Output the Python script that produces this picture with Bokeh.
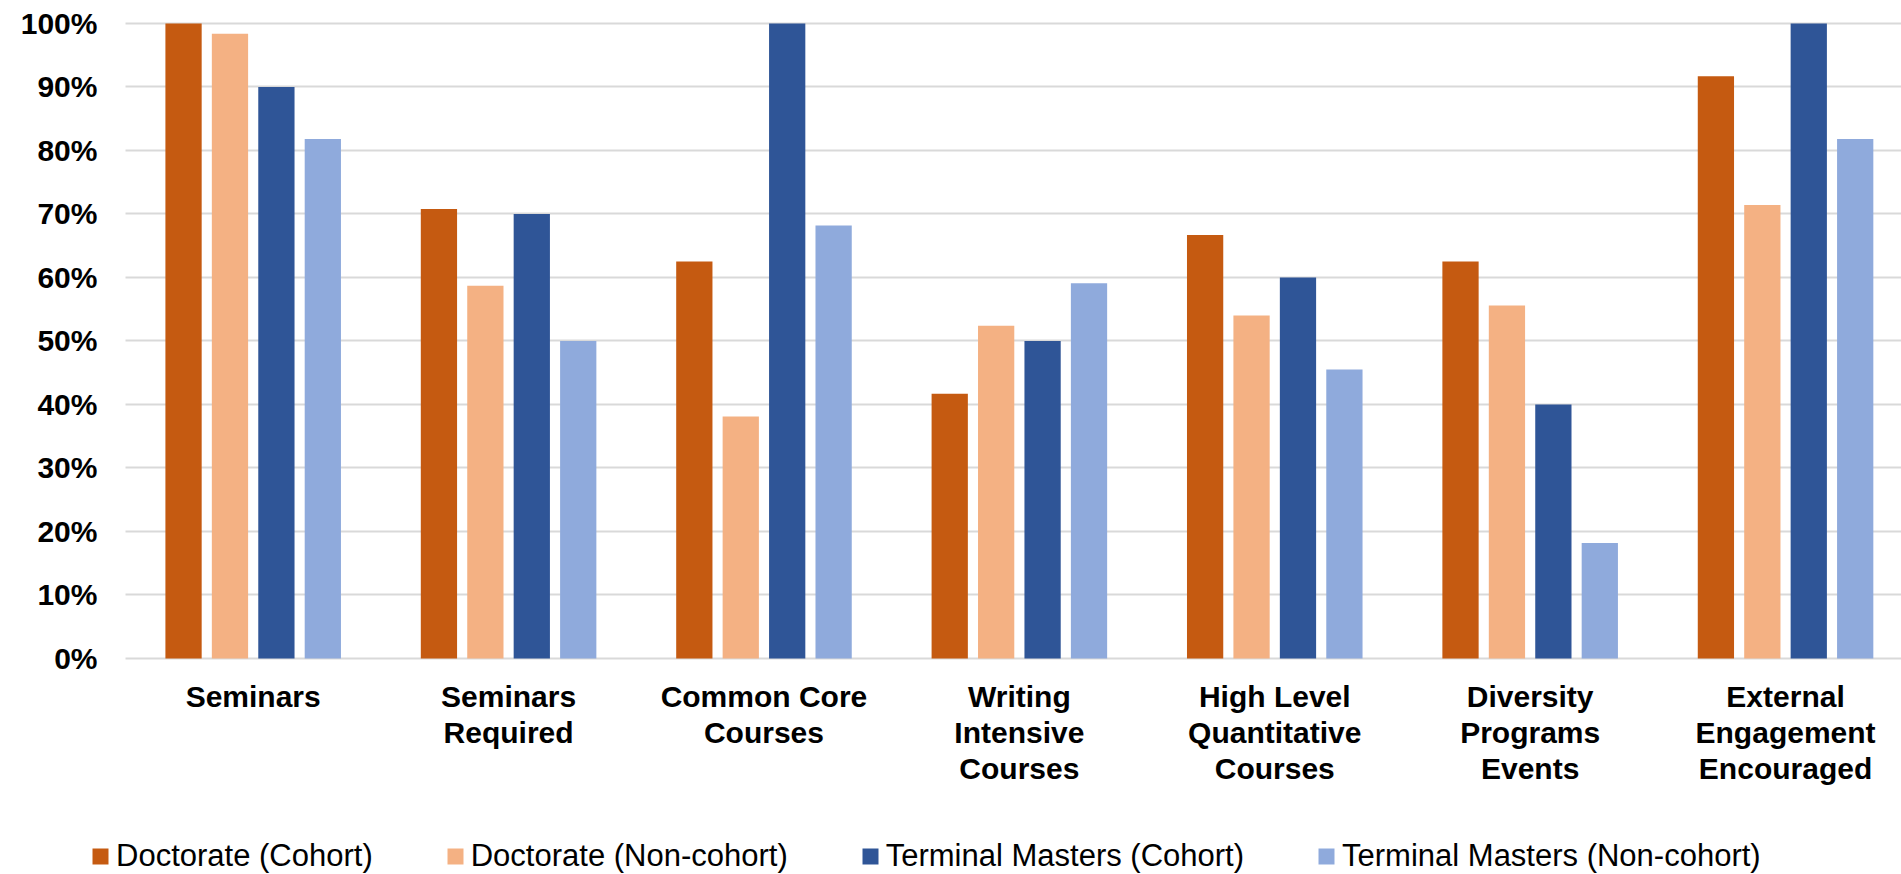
from bokeh.plotting import figure
from bokeh.models import Range1d, NumeralTickFormatter, FixedTicker, Legend, LegendItem, ColumnDataSource
from bokeh.transform import dodge
from bokeh.embed import file_html
from bokeh.resources import INLINE

categories = ["Seminars", "Seminars\nRequired", "Common Core\nCourses", "Writing\nIntensive\nCourses",
              "High Level\nQuantitative\nCourses", "Diversity\nPrograms\nEvents", "External\nEngagement\nEncouraged"]
doc_cohort = [100, 70.8, 62.5, 41.7, 66.7, 62.5, 91.7]
doc_noncohort = [98.4, 58.7, 38.1, 52.4, 54.0, 55.6, 71.4]
tm_cohort = [90, 70, 100, 50, 60, 40, 100]
tm_noncohort = [81.8, 50, 68.2, 59.1, 45.5, 18.2, 81.8]
series_names = ["Doctorate (Cohort)", "Doctorate (Non-cohort)", "Terminal Masters (Cohort)", "Terminal Masters (Non-cohort)"]
series_values = [doc_cohort, doc_noncohort, tm_cohort, tm_noncohort]
colors = ["#C55A11", "#F4B183", "#2F5597", "#8FAADC"]
y_ticks = [0, 0.1, 0.2, 0.3, 0.4, 0.5, 0.6, 0.7, 0.8, 0.9, 1.0]

centers = [i + 0.5 for i in range(len(categories))]
data = {"xc": centers}
for i, vals in enumerate(series_values):
    data["s%d" % i] = [v / 100.0 for v in vals]
source = ColumnDataSource(data)

# The frame covers the whole canvas; axes are pinned at x=0 / y=0 so that
# tick labels and the legend sit inside it. The chart is cropped on the right.
x_start, x_end = -0.4894, 6.954
y_start, y_end = -0.3402, 1.0362

p = figure(x_range=Range1d(x_start, x_end), y_range=Range1d(y_start, y_end),
           width=1901, height=874, output_backend="svg", toolbar_location=None,
           min_border_left=0, min_border_right=0, min_border_top=0, min_border_bottom=0)
p.outline_line_color = None
p.background_fill_color = "white"

pitch = 0.1818
bw = 0.142
offsets = [-1.5 * pitch, -0.5 * pitch, 0.5 * pitch, 1.5 * pitch]
renderers = []
for i in range(4):
    r = p.vbar(x=dodge("xc", offsets[i]), top="s%d" % i, width=bw,
               source=source, color=colors[i], line_color=None)
    renderers.append(r)

p.yaxis.ticker = FixedTicker(ticks=y_ticks)
p.ygrid.ticker = FixedTicker(ticks=y_ticks)
p.yaxis.formatter = NumeralTickFormatter(format="0%")
p.xgrid.grid_line_color = None
try:
    p.ygrid.cross_bounds = (0, x_end)
    p.ygrid.grid_line_color = "#D9D9D9"
    p.ygrid.grid_line_width = 2
except AttributeError:
    p.ygrid.grid_line_color = None
    p.segment(x0=[0] * len(y_ticks), x1=[x_end] * len(y_ticks), y0=y_ticks, y1=y_ticks,
              line_color="#D9D9D9", line_width=2, level="underlay")

p.xaxis.ticker = FixedTicker(ticks=centers)
p.xaxis.major_label_overrides = {c: lab for c, lab in zip(centers, categories)}
p.xaxis.fixed_location = 0
p.yaxis.fixed_location = 0

for ax in (p.xaxis, p.yaxis):
    ax.axis_line_color = None
    ax.major_tick_line_color = None
    ax.minor_tick_line_color = None
    ax.major_tick_in = 0
    ax.major_tick_out = 0
    ax.minor_tick_out = 0
    ax.major_label_text_font = "Liberation Sans"
    ax.major_label_text_font_style = "bold"
    ax.major_label_text_font_size = "30px"
    ax.major_label_text_color = "black"
p.yaxis.major_label_standoff = 28
p.xaxis.major_label_standoff = 22
p.xaxis.major_label_text_line_height = 1.08

legend = Legend(items=[LegendItem(label=series_names[i], renderers=[renderers[i]]) for i in range(4)],
                orientation="horizontal", location=(90, 0))
legend.label_text_font = "Liberation Sans"
legend.label_text_font_size = "31px"
legend.label_text_color = "black"
legend.glyph_width = 20
legend.glyph_height = 20
legend.label_standoff = 6
legend.spacing = 72
legend.padding = 0
legend.margin = 0
legend.border_line_color = None
legend.background_fill_alpha = 0
p.add_layout(legend, "center")

open("out.html", "w").write(file_html(p, INLINE))
